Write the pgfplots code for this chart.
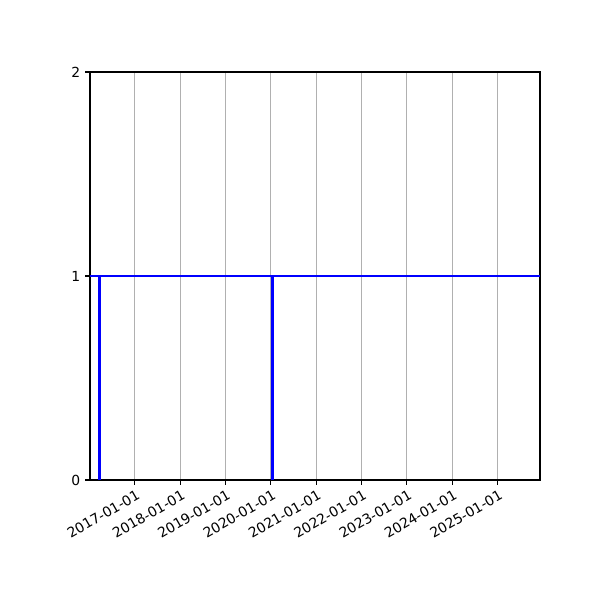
\documentclass[border=0pt]{standalone}
\usepackage{pgfplots}
\pgfplotsset{compat=1.18}
\usepackage{fontspec}
\setmainfont{DejaVu Sans}
% x values: days since 2016-01-01
\pgfplotstableread{
x y
5 1
3630 1
}\levelline
\begin{document}
\begin{tikzpicture}
\path[use as bounding box] (-64.8pt,-86.4pt) rectangle (367.2pt,345.6pt);
\begin{axis}[
    at={(0,0)}, anchor=south west,
    scale only axis,
    width=324pt, height=293.76pt,
    xmin=5, xmax=3630,
    ymin=0, ymax=2,
    ytick={0,1,2},
    xtick={366,731,1096,1461,1827,2192,2557,2922,3288},
    xticklabels={2017-01-01,2018-01-01,2019-01-01,2020-01-01,2021-01-01,2022-01-01,2023-01-01,2024-01-01,2025-01-01},
    xticklabel style={rotate=30, anchor=north east, font=\fontsize{10}{12}\selectfont, inner sep=1pt, yshift=-2pt},
    yticklabel style={font=\fontsize{10}{12}\selectfont},
    /pgf/number format/assume math mode=true,
    tick align=outside,
    tick pos=left,
    major tick length=3.5pt,
    every tick/.style={black, line width=0.8pt},
    axis line style={line width=0.8pt},
    xmajorgrids,
    grid style={color=black!31, line width=0.8pt},
    clip=true,
]
\addplot[blue, line width=1.5pt] table {\levelline};
\addplot[blue, line width=2.2pt] coordinates {(78,0) (78,1)};
\addplot[blue, line width=2.2pt] coordinates {(1477,0) (1477,1)};
\end{axis}
\end{tikzpicture}
\end{document}
